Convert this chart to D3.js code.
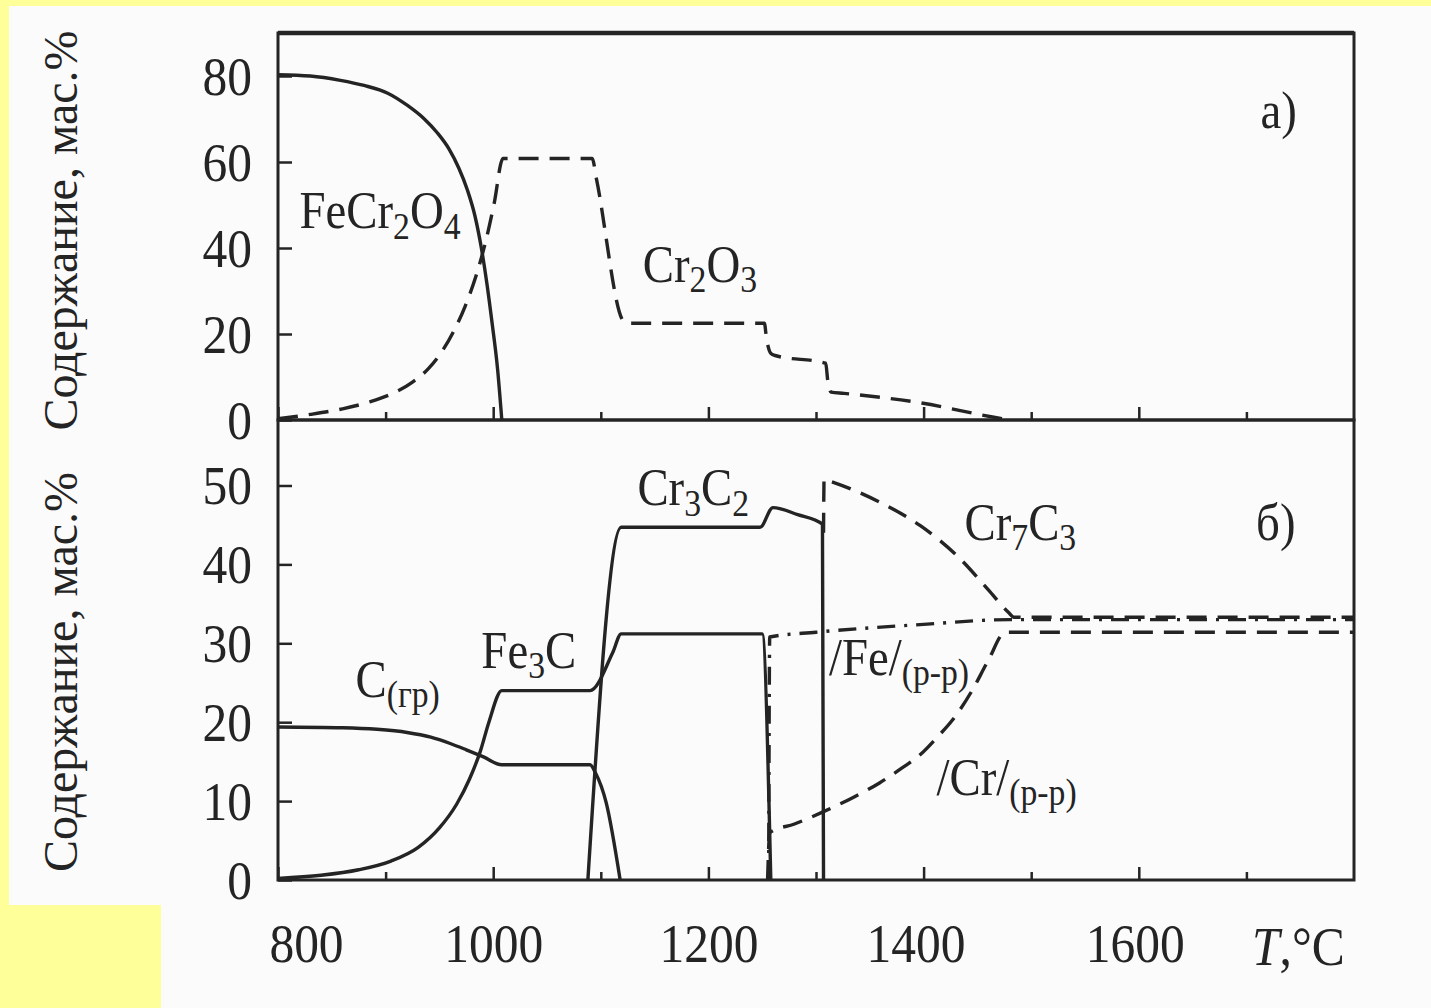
<!DOCTYPE html>
<html>
<head>
<meta charset="utf-8">
<script src="https://cdn.jsdelivr.net/npm/d3@7"></script>
<style>
  body { margin: 0; background: #ffff99; }
</style>
</head>
<body>
<div id="chart"></div>
<script>
// --- data (T in °C, content in mass %) ---
const xTicksMajor = [800, 1000, 1200, 1400, 1600];
const xTicksMinor = [900, 1100, 1300, 1500, 1700];
const yTicksA = [0, 20, 40, 60, 80];
const yTicksB = [0, 10, 20, 30, 40, 50];

// panel a)
const feCr2O4 = [[800, 80.3], [830, 80], [858, 79], [880, 77.8], [902, 76], [920, 73.2], [936, 70],
  [948, 66.8], [959, 63], [968, 58.6], [976, 53.5], [983, 47.5], [989, 40], [994, 32], [999, 22.5],
  [1004, 12], [1008, 0]];
const cr2O3 = [[800, 0.3], [830, 1.3], [860, 2.6], [885, 4.2], [905, 6], [925, 8.8], [940, 12],
  [952, 15.8], [963, 20.5], [974, 26.5], [984, 33.5], [993, 41.5], [1001, 50.5], [1009, 60.8],
  [1092, 60.8], [1096, 56], [1121, 23], [1125, 22.5], [1252, 22.5], [1254, 19], [1258, 15.5],
  [1262, 15], [1309, 13.2], [1311, 9], [1314, 6.5], [1326, 6.2], [1397, 4], [1464, 0.7], [1480, 0]];

// panel б)
const cGr = [[800, 19.4], [860, 19.3], [892, 19.1], [920, 18.7], [942, 18.1], [960, 17.3], [975, 16.5],
  [991, 15.6], [1008, 14.6], [1090, 14.6], [1095, 13.6], [1105, 9.8], [1118, 0]];
const fe3C = [[800, 0.2], [840, 0.6], [875, 1.3], [905, 2.4], [930, 4.1], [950, 6.6], [966, 9.6],
  [978, 12.8], [988, 16.3], [996, 20], [1008, 24], [1090, 24], [1111, 28.8], [1119, 31.2],
  [1250, 31.2], [1258, 0]];
const cr3C2 = [[1088, 0], [1119, 44.7], [1248, 44.7], [1260, 47.2], [1283, 46.3], [1306, 45.1], [1307, 0]];
const cr7C3 = [[1307, 44], [1307.5, 50.8], [1312, 50.6], [1359, 47.9], [1397, 44.9], [1434, 40.7],
  [1460, 36.8], [1479, 33.9], [1484, 33.3], [1800, 33.3]];
const feSol = [[1256, 0], [1257, 30.8], [1300, 31.4], [1400, 32.4], [1480, 33.0], [1800, 33.0]];
const crSol = [[1255, 0], [1257, 6], [1280, 7.1], [1306, 8.6], [1335, 10.5], [1359, 12.3], [1380, 14.2],
  [1397, 15.9], [1412, 18], [1427, 20.3], [1445, 24], [1460, 27.8], [1476, 31.4], [1482, 31.4], [1800, 31.4]];

const W = 1431, H = 1008;
const ink = "#242424";
const serif = "'Liberation Serif', 'DejaVu Serif', serif";

const svg = d3.select("#chart").append("svg")
  .attr("width", W)
  .attr("height", H);

// scanned page: yellow surround, off-white paper
svg.append("rect").attr("width", W).attr("height", H).attr("fill", "#ffff99");
svg.append("rect").attr("x", 9).attr("y", 6).attr("width", W - 9).attr("height", H - 6).attr("fill", "#fbfbfb");
svg.append("rect").attr("x", 0).attr("y", 905).attr("width", 161).attr("height", H - 905).attr("fill", "#ffff99");

const left = 278, right = 1354, topA = 33, mid = 420, bottom = 880;

const x = d3.scaleLinear().domain([800, 1800]).range([left, right]);
const yA = d3.scaleLinear().domain([0, 90]).range([mid, topA]);
const yB = d3.scaleLinear().domain([0, 58.3]).range([bottom, mid]);

// axes (ticks point inwards)
function styleTicks(g) {
  g.select(".domain").remove();
  g.selectAll("line").attr("stroke", ink).attr("stroke-width", 2.5);
  g.selectAll("text").attr("fill", ink).attr("font-family", serif).attr("font-size", 55);
}

function yAxis(scale, ticks) {
  svg.append("g")
    .attr("transform", `translate(${left},0)`)
    .call(d3.axisLeft(scale).tickValues(ticks).tickSize(-14).tickPadding(0).tickFormat(d3.format("d")))
    .call(styleTicks)
    .call(g => g.selectAll("text")
      .attr("x", 0).attr("dy", 0)
      .attr("transform", "translate(-26,18) scale(0.9,1)"));
}
yAxis(yA, yTicksA);
yAxis(yB, yTicksB);

// the scan puts a few x labels slightly off their ticks
const labelShift = { 800: 28, 1400: -8, 1600: -4 };

function xAxis(yPos, withLabels) {
  const gMaj = svg.append("g")
    .attr("transform", `translate(0,${yPos})`)
    .call(d3.axisBottom(x).tickValues(xTicksMajor).tickSize(-13).tickPadding(0).tickFormat(d3.format("d")))
    .call(styleTicks);
  if (withLabels) {
    gMaj.selectAll("text")
      .attr("y", 0).attr("dy", 0)
      .attr("transform", d => `translate(${labelShift[d] || 0},82) scale(0.9,1)`);
  } else {
    gMaj.selectAll("text").remove();
  }
  svg.append("g")
    .attr("transform", `translate(0,${yPos})`)
    .call(d3.axisBottom(x).tickValues(xTicksMinor).tickSize(-8).tickFormat(""))
    .call(styleTicks);
}
xAxis(mid, false);
xAxis(bottom, true);

// frames
svg.append("rect")
  .attr("x", left).attr("y", topA).attr("width", right - left).attr("height", mid - topA)
  .attr("fill", "none").attr("stroke", ink).attr("stroke-width", 3);
svg.append("rect")
  .attr("x", left).attr("y", mid).attr("width", right - left).attr("height", bottom - mid)
  .attr("fill", "none").attr("stroke", ink).attr("stroke-width", 3);
svg.append("line")
  .attr("x1", left).attr("x2", right).attr("y1", topA).attr("y2", topA)
  .attr("stroke", ink).attr("stroke-width", 4.5);

// curves
const lineA = d3.line().x(d => x(d[0])).y(d => yA(d[1])).curve(d3.curveMonotoneX);
const lineB = d3.line().x(d => x(d[0])).y(d => yB(d[1])).curve(d3.curveMonotoneX);

const dashed = "20,11";
const dashDot = "18,9,3,9";

const series = [
  { data: feCr2O4, line: lineA, dash: null },
  { data: cr2O3, line: lineA, dash: dashed },
  { data: cGr, line: lineB, dash: null },
  { data: fe3C, line: lineB, dash: null },
  { data: cr3C2, line: lineB, dash: null },
  { data: cr7C3, line: lineB, dash: dashed },
  { data: feSol, line: lineB, dash: dashDot },
  { data: crSol, line: lineB, dash: dashed }
];

svg.append("g")
  .selectAll("path")
  .data(series)
  .enter().append("path")
  .attr("d", s => s.line(s.data))
  .attr("fill", "none")
  .attr("stroke", ink)
  .attr("stroke-width", 3.4)
  .attr("stroke-linejoin", "round")
  .attr("stroke-dasharray", s => s.dash);

// labels: parts are [text, isSubscript]
function label(px, py, parts, size, italicFirst) {
  const t = svg.append("text")
    .attr("transform", `translate(${px},${py}) scale(0.9,1)`)
    .attr("font-family", serif)
    .attr("font-size", size)
    .attr("fill", ink);
  let sub = false;
  parts.forEach((p, i) => {
    const span = t.append("tspan").text(p[0]);
    if (p[1] && !sub) { span.attr("font-size", size * 0.72).attr("dy", size * 0.2); sub = true; }
    else if (p[1]) { span.attr("font-size", size * 0.72); }
    else if (!p[1] && sub) { span.attr("dy", -size * 0.2); sub = false; }
    if (italicFirst && i === 0) span.attr("font-style", "italic");
  });
}

label(x(820), yA(44.6), [["FeCr", 0], ["2", 1], ["O", 0], ["4", 1]], 52);
label(x(1139), yA(32.2), [["Cr", 0], ["2", 1], ["O", 0], ["3", 1]], 52);
label(x(1713), yA(68), [["a)", 0]], 52);

label(x(1134), yB(47.5), [["Cr", 0], ["3", 1], ["C", 0], ["2", 1]], 52);
label(x(1438), yB(43.1), [["Cr", 0], ["7", 1], ["C", 0], ["3", 1]], 52);
label(x(1709), yB(43.1), [["б)", 0]], 52);
label(x(989), yB(26.9), [["Fe", 0], ["3", 1], ["C", 0]], 52);
label(x(872), yB(23.2), [["C", 0], ["(гр)", 1]], 52);
label(x(1312), yB(26), [["/Fe/", 0], ["(р-р)", 1]], 52);
label(x(1412), yB(10.8), [["/Cr/", 0], ["(р-р)", 1]], 52);

label(1252, 965, [["T", 0], [",°C", 0]], 55, true);

// y-axis titles
[[(topA + mid) / 2 + 4], [(mid + bottom) / 2 + 22]].forEach(c => {
  svg.append("text")
    .attr("transform", `translate(77,${c[0]}) rotate(-90)`)
    .attr("text-anchor", "middle")
    .attr("font-family", serif)
    .attr("font-size", 48)
    .attr("fill", ink)
    .text("Содержание, мас.%");
});
</script>
</body>
</html>
